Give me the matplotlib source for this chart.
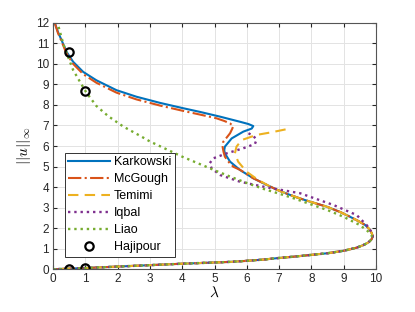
import numpy as np
import matplotlib
matplotlib.use("Agg")
import matplotlib.pyplot as plt

plt.rcParams['font.family'] = ['Liberation Sans', 'DejaVu Sans']
plt.rcParams['mathtext.fontset'] = 'cm'

# shared lower branch (from the turning point down to the origin)
low_lam = [9.9, 9.86, 9.76, 9.6, 9.4, 9.0, 8.5, 8.0, 7.5, 7.0, 6.5, 6.0, 5.5, 5.0, 4.0, 3.0, 2.0, 1.0, 0.5, 0.0]
low_u = [1.6, 1.45, 1.3, 1.17, 1.05, 0.9, 0.78, 0.7, 0.62, 0.55, 0.47, 0.41, 0.36, 0.33, 0.27, 0.2, 0.13, 0.06, 0.03, 0.0]

# Karkowski upper part
kar_lam = [0.05, 0.15, 0.26, 0.41, 0.62, 0.93, 1.34, 1.96, 2.58, 3.31, 4.0, 4.55, 5.17, 5.79, 6.05, 6.2,
           6.15, 5.89, 5.53, 5.32, 5.3, 5.32, 5.48, 5.79, 6.2, 6.6, 6.92, 7.3, 7.64, 8.0, 8.47, 8.9, 9.19, 9.45, 9.66, 9.8, 9.87]
kar_u = [12.0, 11.55, 11.16, 10.6, 10.1, 9.61, 9.2, 8.72, 8.4, 8.1, 7.85, 7.66, 7.43, 7.18, 7.07, 6.97,
         6.85, 6.7, 6.37, 5.97, 5.8, 5.64, 5.24, 4.83, 4.43, 4.12, 3.88, 3.64, 3.45, 3.27, 3.05, 2.78, 2.56, 2.35, 2.16, 1.95, 1.75]

# McGough upper part
mcg_lam = [0.05, 0.15, 0.26, 0.41, 0.62, 0.93, 1.34, 1.96, 2.58, 3.31, 4.0, 4.55, 5.06, 5.3, 5.48, 5.58,
           5.55, 5.48, 5.38, 5.27, 5.25, 5.28, 5.32, 5.45, 5.58, 5.8, 6.2, 6.6, 6.92, 7.3, 7.64, 8.0, 8.47, 8.9, 9.19, 9.45, 9.66, 9.8, 9.87]
mcg_u = [12.0, 11.5, 11.1, 10.52, 10.0, 9.5, 9.08, 8.6, 8.27, 7.97, 7.72, 7.53, 7.35, 7.22, 7.1, 6.97,
         6.85, 6.62, 6.42, 6.21, 5.95, 5.7, 5.48, 5.2, 4.99, 4.83, 4.43, 4.12, 3.88, 3.64, 3.45, 3.27, 3.05, 2.78, 2.56, 2.35, 2.16, 1.95, 1.75]

# Temimi upper part
tem_lam = [7.2, 6.77, 6.3, 5.84, 5.68, 5.63, 5.73, 5.99, 6.35, 6.82, 7.3, 7.64, 8.0, 8.47, 8.9, 9.19, 9.45, 9.66, 9.8, 9.87]
tem_u = [6.81, 6.67, 6.54, 6.29, 5.97, 5.64, 5.24, 4.75, 4.35, 3.94, 3.64, 3.45, 3.27, 3.05, 2.78, 2.56, 2.35, 2.16, 1.95, 1.75]

# Iqbal upper part
iqb_lam = [6.05, 6.2, 6.3, 6.25, 5.89, 5.37, 4.96, 4.85, 4.91, 5.17, 5.79, 6.61, 7.65, 8.68, 9.4, 9.76, 9.88]
iqb_u = [6.62, 6.5, 6.3, 6.1, 5.89, 5.64, 5.4, 5.16, 4.91, 4.59, 4.26, 3.99, 3.7, 3.13, 2.64, 2.07, 1.75]

# Liao upper part
lia_lam = [0.17, 0.31, 0.46, 0.62, 0.83, 1.03, 1.34, 1.71, 2.17, 2.69, 3.0, 3.5, 4.0, 4.5, 5.0, 5.5, 6.0,
           6.5, 7.0, 7.5, 8.0, 8.5, 9.0, 9.5, 9.75, 9.88]
lia_u = [11.8, 11.0, 10.35, 9.7, 9.13, 8.6, 7.95, 7.45, 6.95, 6.5, 6.22, 5.85, 5.48, 5.15, 4.82, 4.5, 4.2,
         3.92, 3.68, 3.43, 3.15, 2.88, 2.55, 2.15, 1.85, 1.6]

# Hajipour points
haj_lam = [0.5, 1.0, 0.5, 1.0]
haj_u = [0.03, 0.05, 10.6, 8.7]

fig = plt.figure(figsize=(4.15, 3.12), dpi=100)
ax = fig.add_axes([0.128, 0.137, 0.778, 0.79])

ax.plot(kar_lam + low_lam, kar_u + low_u, '-', color='#0072BD', lw=1.5, label='Karkowski')
ax.plot(mcg_lam + low_lam, mcg_u + low_u, '-.', color='#D95319', lw=1.5, label='McGough')
ax.plot(tem_lam + low_lam, tem_u + low_u, '--', color='#EDB120', lw=1.5, label='Temimi', dashes=(5, 3))
ax.plot(iqb_lam + low_lam, iqb_u + low_u, ':', color='#7E2F8E', lw=1.7, label='Iqbal')
ax.plot(lia_lam + low_lam, lia_u + low_u, ':', color='#77AC30', lw=1.7, label='Liao')
ax.plot(haj_lam, haj_u, 'o', mfc='none', mec='black', mew=1.6, ms=6, label='Hajipour')

ax.set_xlim(0, 10)
ax.set_ylim(0, 12)
ax.set_xticks(np.arange(0, 11, 1))
ax.set_yticks(np.arange(0, 13, 1))
ax.tick_params(direction='in', length=3, top=True, right=True, labelsize=8.5, colors='#262626', pad=3)
ax.grid(True, color='#e3e3e3', lw=0.7)
ax.set_axisbelow(True)
for s in ax.spines.values():
    s.set_color('#555555')
    s.set_linewidth(0.8)

ax.set_xlabel(r'$\lambda$', fontsize=11, labelpad=0)
ax.set_ylabel(r'$||u||_\infty$', fontsize=11, labelpad=2)

leg = ax.legend(loc='lower left', bbox_to_anchor=(0.036, 0.049), borderaxespad=0, fontsize=9,
                fancybox=False, framealpha=1, edgecolor='#333333', handlelength=3.3, labelspacing=0.4,
                handletextpad=0.35, borderpad=0.3)
leg.get_frame().set_linewidth(0.7)

fig.savefig('out.png', dpi=100)
